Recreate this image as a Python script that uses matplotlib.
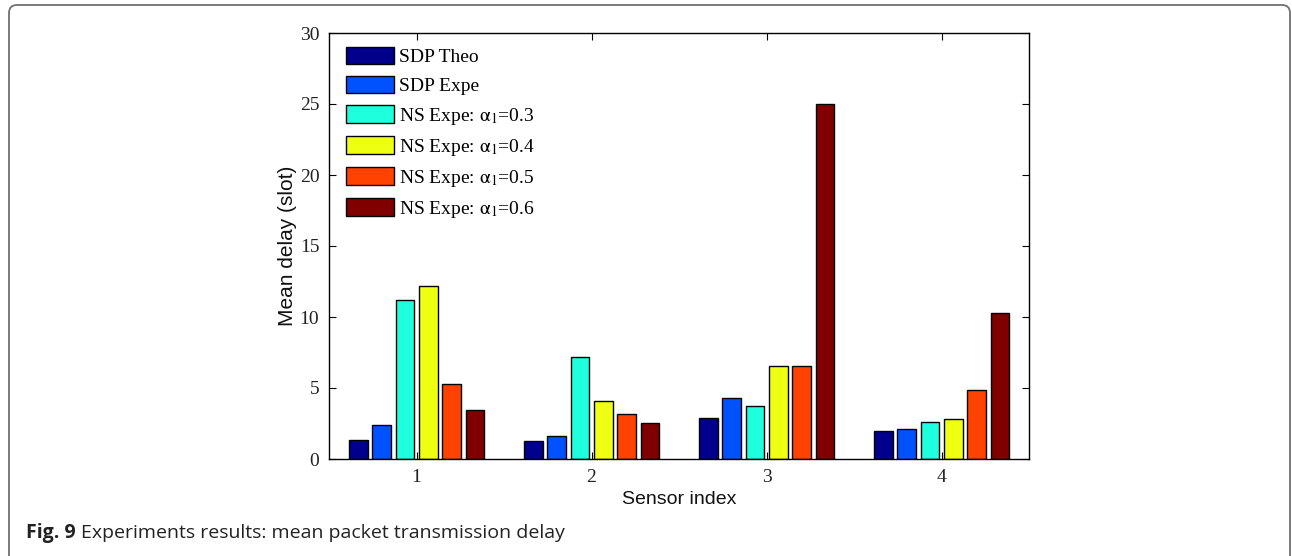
import matplotlib
matplotlib.use("Agg")
import matplotlib.pyplot as plt
import numpy as np
from matplotlib.patches import FancyBboxPatch
from matplotlib.transforms import IdentityTransform

plt.rcParams['mathtext.fontset'] = 'stix'

sensors = [1, 2, 3, 4]
sdp_theo = [1.31, 1.24, 2.91, 1.97]
sdp_expe = [2.37, 1.64, 4.27, 2.14]
ns_a03 = [11.21, 7.15, 3.73, 2.63]
ns_a04 = [12.19, 4.06, 6.57, 2.84]
ns_a05 = [5.25, 3.14, 6.57, 4.85]
ns_a06 = [3.42, 2.51, 25.03, 10.30]

series = [sdp_theo, sdp_expe, ns_a03, ns_a04, ns_a05, ns_a06]
labels = ["SDP Theo", "SDP Expe",
          r"NS Expe: $\mathrm{\alpha}_1$=0.3",
          r"NS Expe: $\mathrm{\alpha}_1$=0.4",
          r"NS Expe: $\mathrm{\alpha}_1$=0.5",
          r"NS Expe: $\mathrm{\alpha}_1$=0.6"]
colors = ['#00008C', '#0052FF', '#1EFFDE', '#EEFF12', '#FF4200', '#800000']

fig = plt.figure(figsize=(12.92, 5.56), dpi=100)
ax = fig.add_axes([329/1292, 1-459/556, 700/1292, 426/556])

n = len(series)
group_w = 0.8
step = group_w / n
bar_w = step * 0.8
x = np.array(sensors, dtype=float)
handles = []
for i, (vals, lab, c) in enumerate(zip(series, labels, colors)):
    off = (i - (n - 1) / 2) * step
    h = ax.bar(x + off, vals, width=bar_w, color=c, edgecolor='black',
               linewidth=1.0, label=lab, zorder=2)
    handles.append(h)

ax.set_xlim(0.5, 4.5)
ax.set_ylim(0, 30)
ax.set_xticks(sensors)
ax.set_yticks(np.arange(0, 31, 5))
serif = ['Liberation Serif', 'DejaVu Serif']
for t in ax.get_xticklabels() + ax.get_yticklabels():
    t.set_family(serif)
    t.set_fontsize(14)
    t.set_color('#222222')
ax.tick_params(direction='in', length=5, width=0.8, top=True, right=True, pad=7)
for s in ax.spines.values():
    s.set_linewidth(1.0)

ax.set_xlabel("Sensor index", family=['Liberation Sans'], fontsize=14, labelpad=4, color='#111111')
ax.set_ylabel("Mean delay (slot)", family=['Liberation Sans'], fontsize=15, labelpad=2, color='#111111')

leg = ax.legend(handles=handles, loc='upper left',
                bbox_to_anchor=((346-329)/700, 1-(47-33)/426),
                frameon=False, borderpad=0, borderaxespad=0,
                handlelength=2.45, handleheight=1.0, handletextpad=0.28,
                labelspacing=0.5,
                prop={'family': serif, 'size': 14})

# figure frame (rounded top-left)
frame = FancyBboxPatch((9, -60), 1281, 556 - 5 + 60,
                       boxstyle="round,pad=0,rounding_size=8",
                       transform=IdentityTransform(), facecolor='none',
                       edgecolor='#707070', linewidth=1.3)
fig.add_artist(frame)

cap_y = 1 - 533/556
t1 = fig.text(26/1292, cap_y, "Fig. 9", fontsize=14, fontweight='bold',
              family=['Open Sans'], va='center', ha='left', color='#222222')
fig.canvas.draw()
bb = t1.get_window_extent()
fig.text((bb.x1 + 5)/1292, cap_y, "Experiments results: mean packet transmission delay",
         fontsize=14, family=['Open Sans'], va='center', ha='left', color='#222222')

fig.savefig("out.png", dpi=100)
